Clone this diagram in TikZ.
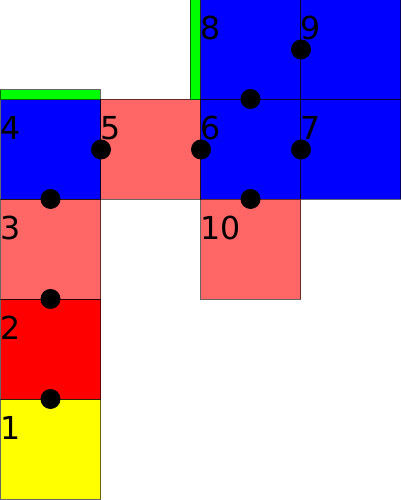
\documentclass[tikz,border=0pt]{standalone}
\usepackage{fontspec}
\setmainfont{DejaVu Sans}
\usepackage{xcolor}
\usepackage{tikz}
\usetikzlibrary{positioning}
\definecolor{cellblue}{RGB}{0,0,255}
\definecolor{cellred}{RGB}{255,0,0}
\definecolor{cellpink}{RGB}{255,102,102}
\definecolor{cellyellow}{RGB}{255,255,0}
\definecolor{barlime}{RGB}{0,255,0}
\tikzset{
  cellbox/.style={draw=black,draw opacity=0.6,line width=0.57pt,minimum size=2cm,inner sep=0pt,anchor=south west},
  celltext/.style={anchor=base west,inner sep=0pt,font=\fontsize{18}{18}\selectfont},
  joint/.style={circle,fill=black,minimum size=0.4cm,inner sep=0pt},
  edgebar/.style={fill=barlime,draw=black,draw opacity=0.6,line width=0.57pt}
}
\newcommand{\cell}[4]{%
  \node[cellbox,fill=#4] (sq#1) at (#2,#3) {};%
  \node[celltext] (lb#1) at ([yshift=-0.82cm]sq#1.north west) {#1};%
}

\begin{document}
\begin{tikzpicture}[x=2cm,y=2cm]
  \useasboundingbox (0,0) rectangle (4,5);
  \cell{1}{0}{0}{cellyellow}
  \cell{2}{0}{1}{cellred}
  \cell{3}{0}{2}{cellpink}
  \cell{4}{0}{3}{cellblue}
  \cell{5}{1}{3}{cellpink}
  \cell{6}{2}{3}{cellblue}
  \cell{7}{3}{3}{cellblue}
  \cell{8}{2}{4}{cellblue}
  \cell{9}{3}{4}{cellblue}
  \cell{10}{2}{2}{cellpink}
  % green bars
  \filldraw[edgebar] (0,4) rectangle (1,4.1);
  \filldraw[edgebar] (1.9,4) rectangle (2,5);
  % joints
  \node[joint] (j12) at (sq1.north) {};
  \node[joint] (j23) at (sq2.north) {};
  \node[joint] (j34) at (sq3.north) {};
  \node[joint] (j45) at (sq4.east) {};
  \node[joint] (j56) at (sq5.east) {};
  \node[joint] (j67) at (sq6.east) {};
  \node[joint] (j68) at (sq6.north) {};
  \node[joint] (j610) at (sq10.north) {};
  \node[joint] (j89) at (sq8.east) {};
\end{tikzpicture}
\end{document}
